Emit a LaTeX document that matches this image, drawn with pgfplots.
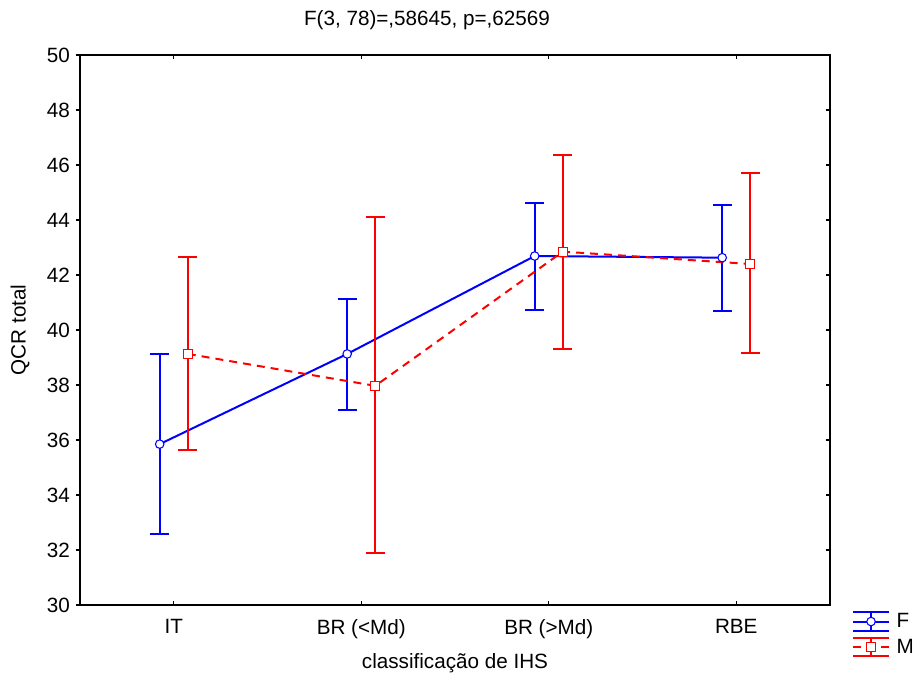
\documentclass[border=0pt]{standalone}
\usepackage{fontspec}
\setmainfont{Liberation Sans}
\usepackage{pgfplots}
\usepackage{pgfplotstable}
\pgfplotsset{compat=1.18}

\definecolor{fblue}{RGB}{0,0,255}
\definecolor{mred}{RGB}{255,0,0}
\newcommand{\cf}{\fontsize{15.5}{18}\selectfont}

% x offset of each group, mean, error up, error down
\pgfplotstableread{
x      y     ep   em
-0.075 35.85 3.27 3.25
0.925  39.13 2.01 2.04
1.925  42.69 1.92 1.96
2.925  42.63 1.92 1.95
}\dataF
\pgfplotstableread{
x      y     ep   em
0.075  39.13 3.52 3.49
1.075  37.97 6.13 6.07
2.075  42.85 3.51 3.53
3.075  42.40 3.30 3.23
}\dataM

\pgfplotsset{
  base/.style={scale only axis, width=562.5pt, height=412.5pt,
    xmin=-0.5, xmax=3.5, ymin=30, ymax=50, at={(0,0)}, anchor=south west},
  errleg/.style={legend image code/.code={
    \draw[solid,line width=1.5pt,mark=none] (0pt,7pt)--(27pt,7pt) (0pt,-7pt)--(27pt,-7pt) (13.5pt,-7pt)--(13.5pt,7pt);
    \draw[mark repeat=2,mark phase=2] plot coordinates {(0pt,0pt) (13.5pt,0pt) (27pt,0pt)};
  }},
}

\begin{document}
\begin{tikzpicture}
\useasboundingbox (-60pt,-53.25pt) rectangle (627pt,453.75pt);
\begin{axis}[base,
  axis line style={line width=1.1pt},
  tick align=inside, major tick length=3pt,
  tick style={black, line width=1pt},
  xtick={0,1,2,3}, xticklabels={IT, BR (<Md), BR (>Md), RBE},
  xtick pos=both, xticklabel pos=bottom,
  ytick={30,32,...,50}, ytick pos=right, yticklabel pos=left,
  tick label style={font=\cf},
  /pgf/number format/assume math mode=true,
  xticklabel style={yshift=-7pt},
  yticklabel style={xshift=-4pt},
  legend style={at={(1.029,-0.010)}, anchor=north west, draw=none, fill=none,
    inner sep=0pt, font=\cf, row sep=3pt, legend cell align=left},
  clip=false,
]
\addplot[fblue, line width=1.5pt, mark=*, mark size=3.2pt,
  mark options={solid, fill=white, draw=fblue, line width=0.8pt}, errleg,
  error bars/.cd, y dir=both, y explicit, error mark=|,
  error bar style={line width=1.5pt, solid},
  error mark options={line width=1.5pt, mark size=7pt, fblue}]
  table[x=x, y=y, y error plus=ep, y error minus=em] {\dataF};
\addlegendentry{\hspace*{3pt}F}
\addplot[mred, line width=1.5pt, dash pattern=on 6pt off 4.5pt, mark=square*, mark size=3.4pt,
  mark options={solid, fill=white, draw=mred, line width=0.8pt}, errleg,
  error bars/.cd, y dir=both, y explicit, error mark=|,
  error bar style={line width=1.5pt, solid},
  error mark options={line width=1.5pt, mark size=7pt, mred, solid}]
  table[x=x, y=y, y error plus=ep, y error minus=em] {\dataM};
\addlegendentry{\hspace*{3pt}M}
\end{axis}
\begin{axis}[base, xtick=\empty, ytick={30,32,...,50}, ytick pos=left,
  yticklabels={}, axis line style={draw=none}, tick align=outside,
  major tick length=3pt, tick style={black, line width=1pt}]
\end{axis}
\node[font=\cf] at (260.25pt,438.75pt) {F(3, 78)=,58645, p=,62569};
\node[font=\cf] at (281.25pt,-43.5pt) {classificação de IHS};
\node[font=\cf, rotate=90] at (-45pt,206.25pt) {QCR total};
\end{tikzpicture}
\end{document}
